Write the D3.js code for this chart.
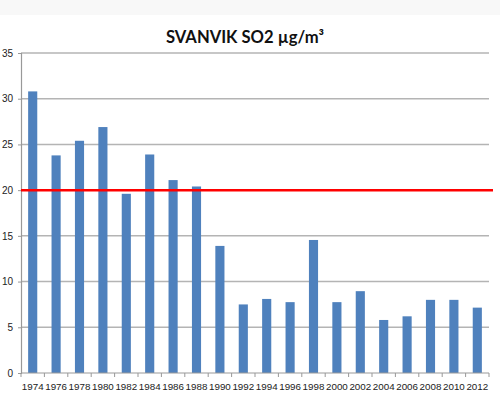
<!DOCTYPE html>
<html>
<head>
<meta charset="utf-8">
<script src="https://cdn.jsdelivr.net/npm/d3@7"></script>
<style>
  body { margin: 0; background: #fff; }
  svg { display: block; font-family: "Liberation Sans", Arial, sans-serif; }
</style>
</head>
<body>
<div id="chart"></div>
<script>
// data
var years = ["1974","1976","1978","1980","1982","1984","1986","1988","1990","1992",
             "1994","1996","1998","2000","2002","2004","2006","2008","2010","2012"];
var so2 = [30.8, 23.8, 25.4, 26.9, 19.6, 23.9, 21.1, 20.4, 13.9, 7.5,
           8.1, 7.75, 14.55, 7.75, 8.95, 5.8, 6.2, 8.0, 8.0, 7.15];
var yTicks = [0, 5, 10, 15, 20, 25, 30, 35];
var limit = 20;
var title = "SVANVIK SO2 µg/m³";

var width = 500, height = 396;
var margin = {top: 53, right: 11, bottom: 23, left: 21};

var svg = d3.select("#chart")
  .append("svg")
  .attr("width", width)
  .attr("height", height);

// faint grey band at the top of the image
svg.append("rect")
  .attr("x", 0).attr("y", 0)
  .attr("width", width).attr("height", 15)
  .attr("fill", "#f8f8f8");

var x = d3.scaleBand()
  .domain(years)
  .range([margin.left, width - margin.right])
  .paddingInner(0.61)
  .paddingOuter(0.305);

var y = d3.scaleLinear()
  .domain([0, 35])
  .range([height - margin.bottom, margin.top]);

// gridlines
svg.append("g")
  .selectAll("line")
  .data(yTicks.filter(function(d){ return d > 0; }))
  .enter()
  .append("line")
  .attr("x1", margin.left)
  .attr("x2", width - margin.right)
  .attr("y1", function(d){ return y(d); })
  .attr("y2", function(d){ return y(d); })
  .attr("stroke", "#b4b4b4")
  .attr("stroke-width", 1.5);

// y axis
var yAxis = svg.append("g")
  .attr("transform", "translate(" + margin.left + ",0)")
  .call(d3.axisLeft(y).tickValues(yTicks).tickSize(3).tickPadding(5));
yAxis.select(".domain").attr("stroke", "#999").attr("stroke-width", 1.2);
yAxis.selectAll(".tick line").attr("stroke", "#999");
yAxis.selectAll("text")
  .attr("fill", "#222")
  .style("font-size", "10px");

// bars
svg.append("g")
  .selectAll("rect")
  .data(so2)
  .enter()
  .append("rect")
  .attr("x", function(d, i){ return x(years[i]); })
  .attr("y", function(d){ return y(d); })
  .attr("width", x.bandwidth())
  .attr("height", function(d){ return y(0) - y(d); })
  .attr("fill", "#4f81bd");

// x axis with ticks between categories
var xAxis = svg.append("g")
  .attr("transform", "translate(0," + y(0) + ")");
xAxis.append("line")
  .attr("x1", margin.left).attr("x2", width - margin.right)
  .attr("stroke", "#999").attr("stroke-width", 1.2);
var step = x.step();
xAxis.selectAll(".sep")
  .data(d3.range(years.length + 1))
  .enter()
  .append("line")
  .attr("class", "sep")
  .attr("x1", function(i){ return margin.left + i * step; })
  .attr("x2", function(i){ return margin.left + i * step; })
  .attr("y1", 0).attr("y2", 4)
  .attr("stroke", "#999");
xAxis.selectAll("text")
  .data(years)
  .enter()
  .append("text")
  .attr("x", function(d){ return x(d) + x.bandwidth() / 2; })
  .attr("y", 17)
  .attr("text-anchor", "middle")
  .attr("fill", "#222")
  .style("font-size", "9.8px")
  .text(function(d){ return d; });

// limit line
svg.append("line")
  .attr("x1", margin.left)
  .attr("x2", width - margin.right + 4)
  .attr("y1", y(limit))
  .attr("y2", y(limit))
  .attr("stroke", "#ff0000")
  .attr("stroke-width", 2.5);

// title
svg.append("text")
  .attr("x", 245)
  .attr("y", 43)
  .attr("text-anchor", "middle")
  .attr("fill", "#111")
  .style("font-family", "Lato, sans-serif")
  .style("font-size", "16.6px")
  .style("font-weight", "bold")
  .text(title);
</script>
</body>
</html>
